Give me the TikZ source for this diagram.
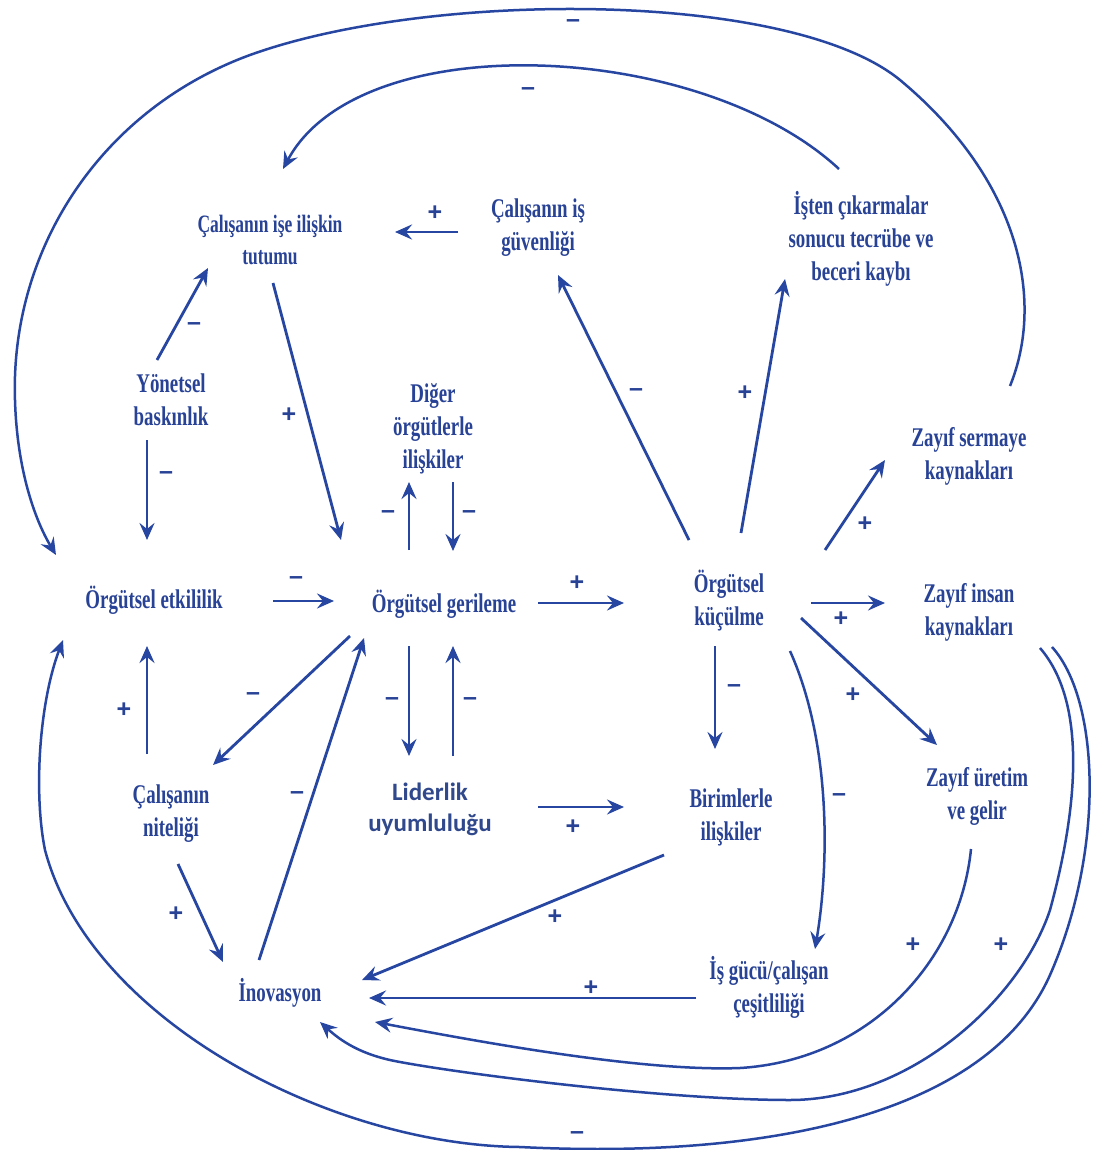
\documentclass[tikz,border=0pt]{standalone}
\usepackage{fontspec}
\newfontfamily\nfont{Liberation Serif}[FakeStretch=0.70]
\newfontfamily\sfont{Liberation Sans}
\newfontfamily\lfont{Carlito}
\usetikzlibrary{arrows.meta,calc}
\definecolor{dblue}{RGB}{38,70,162}
\definecolor{tblue}{RGB}{40,66,150}
\definecolor{lblue}{RGB}{48,72,140}
\begin{document}
\begin{tikzpicture}[x=1pt,y=-1pt,
  lbl/.style={text=tblue, font=\nfont\bfseries\fontsize{27}{33}\selectfont, align=center, inner sep=0pt},
  lsm/.style={lbl, font=\nfont\bfseries\fontsize{25}{32}\selectfont},
  lsans/.style={lbl, text=lblue, font=\lfont\bfseries\fontsize{25}{31}\selectfont},
  sgn/.style={text=tblue, font=\sfont\bfseries\fontsize{25}{25}\selectfont, inner sep=0pt},
  arr/.style={draw=dblue, line width=2.8pt, -{Stealth[length=17pt,width=15pt,inset=6pt]}},
  carr/.style={arr, line width=2.5pt}
]
\fill[white] (0,0) rectangle (1097,1150);
\useasboundingbox (0,0) rectangle (1097,1150);

% nodes
\node[lsm] (tutum) at (270,240) {Çalışanın işe ilişkin\\tutumu};
\node[lbl] (guven) at (538,228) {Çalışanın iş\\güvenliği};
\node[lbl] (isten) at (861,239) {İşten çıkarmalar\\sonucu tecrübe ve\\beceri kaybı};
\node[lbl] (yonet) at (171,400) {Yönetsel\\baskınlık};
\node[lbl] (diger) at (433,429) {Diğer\\örgütlerle\\ilişkiler};
\node[lbl] (serm) at (969,456) {Zayıf sermaye\\kaynakları};
\node[lbl] (etki) at (154,600) {Örgütsel etkililik};
\node[lbl] (geri) at (444,604) {Örgütsel gerileme};
\node[lbl] (kucul) at (729,601) {Örgütsel\\küçülme};
\node[lbl] (insan) at (969,612) {Zayıf insan\\kaynakları};
\node[lbl] (nitel) at (171,814) {Çalışanın\\niteliği};
\node[lsans] (lider) at (430,809) {Liderlik\\uyumluluğu};
\node[lbl] (birim) at (731,817) {Birimlerle\\ilişkiler};
\node[lbl] (uret) at (977,796) {Zayıf üretim\\ve gelir};
\node[lbl] (inov) at (280,993) {İnovasyon};
\node[lbl] (cesit) at (769,987) {İş gücü/çalışan\\çeşitliliği};

% straight connectors
\draw[arr] ($(guven)+(-80,4)$) -- ($(tutum)+(125,-8)$);
\draw[arr] ($(yonet)+(-14,-40)$) -- ($(tutum)+(-62,28)$);
\draw[arr] ($(tutum)+(3,43)$) -- ($(geri)+(-103,-64)$);
\draw[arr] ($(yonet)+(-24,40)$) -- ($(etki)+(-7,-60)$);
\draw[arr] ($(etki)+(119,1)$) -- ($(geri)+(-110,-3)$);
\draw[arr] ($(geri)+(-35,-54)$) -- ($(diger)+(-24,53)$);
\draw[arr] ($(diger)+(20,53)$) -- ($(geri)+(9,-53)$);
\draw[arr] ($(geri)+(94,-1)$) -- ($(kucul)+(-105,2)$);
\draw[arr] ($(kucul)+(-40,-61)$) -- ($(guven)+(20,47)$);
\draw[arr] ($(kucul)+(12,-68)$) -- ($(isten)+(-76,40)$);
\draw[arr] ($(kucul)+(96,-51)$) -- ($(serm)+(-84,4)$);
\draw[arr] ($(kucul)+(82,2)$) -- ($(insan)+(-84,-9)$);
\draw[arr] ($(kucul)+(72,17)$) -- ($(uret)+(-40,-51)$);
\draw[arr] ($(kucul)+(-14,45)$) -- ($(birim)+(-16,-68)$);
\draw[arr] ($(geri)+(-94,32)$) -- ($(nitel)+(42,-49)$);
\draw[arr] ($(inov)+(-21,-33)$) -- ($(geri)+(-80,34)$);
\draw[arr] ($(geri)+(-35,42)$) -- ($(lider)+(-21,-53)$);
\draw[arr] ($(lider)+(23,-53)$) -- ($(geri)+(9,42)$);
\draw[arr] ($(nitel)+(-24,-60)$) -- ($(etki)+(-7,46)$);
\draw[arr] ($(lider)+(108,-2)$) -- ($(birim)+(-107,-10)$);
\draw[arr] ($(nitel)+(7,50)$) -- ($(inov)+(-57,-31)$);
\draw[arr] ($(birim)+(-67,38)$) -- ($(inov)+(82,-13)$);
\draw[arr] ($(cesit)+(-73,11)$) -- ($(inov)+(89,5)$);

% curved connectors
\draw[carr] ($(kucul)+(61,50)$) .. controls (830,740) and (830,860) .. ($(cesit)+(46,-38)$);
\draw[carr] ($(uret)+(-6,53)$) .. controls (960,960) and (870,1060) .. (740,1068)
   .. controls (640,1072) and (470,1040) .. ($(inov)+(95,29)$);
\draw[carr] ($(insan)+(71,36)$) .. controls (1085,700) and (1080,800) .. (1050,910)
   .. controls (1020,1000) and (910,1100) .. (790,1100)
   .. controls (670,1100) and (470,1075) .. (400,1062)
   .. controls (360,1055) and (340,1040) .. ($(inov)+(40,29)$);
\draw[carr] ($(insan)+(83,35)$) .. controls (1100,700) and (1105,850) .. (1050,975)
   .. controls (990,1110) and (780,1160) .. (520,1147)
   .. controls (330,1145) and (90,1020) .. (45,850)
   .. controls (33,790) and (40,700) .. ($(etki)+(-91,40)$);
\draw[carr] ($(serm)+(41,-70)$) .. controls (1045,300) and (1020,180) .. (900,80)
   .. controls (790,-10) and (430,-10) .. (250,55)
   .. controls (100,110) and (10,250) .. (15,400)
   .. controls (17,470) and (35,520) .. ($(etki)+(-98,-45)$);
\draw[carr] ($(isten)+(-22,-70)$) .. controls (700,40) and (360,25) .. ($(tutum)+(13,-71)$);

% polarity labels
\foreach \x/\y/\t [count=\i] in {435/213/+, 194/327/–, 289/415/+, 166/476/–, 296/581/–,
  388/515/–, 469/515/–, 577/583/+, 636/393/–, 745/393/+, 865/524/+, 841/619/+,
  853/695/+, 734/689/–, 839/798/–, 253/697/–, 297/796/–, 392/702/–, 470/702/–,
  124/710/+, 573/827/+, 176/914/+, 555/917/+, 591/988/+, 913/945/+, 1001/945/+,
  573/24/–, 528/92/–, 577/1136/–}
  \node[sgn] (s\i) at (\x,\y) {\t};
\end{tikzpicture}
\end{document}
